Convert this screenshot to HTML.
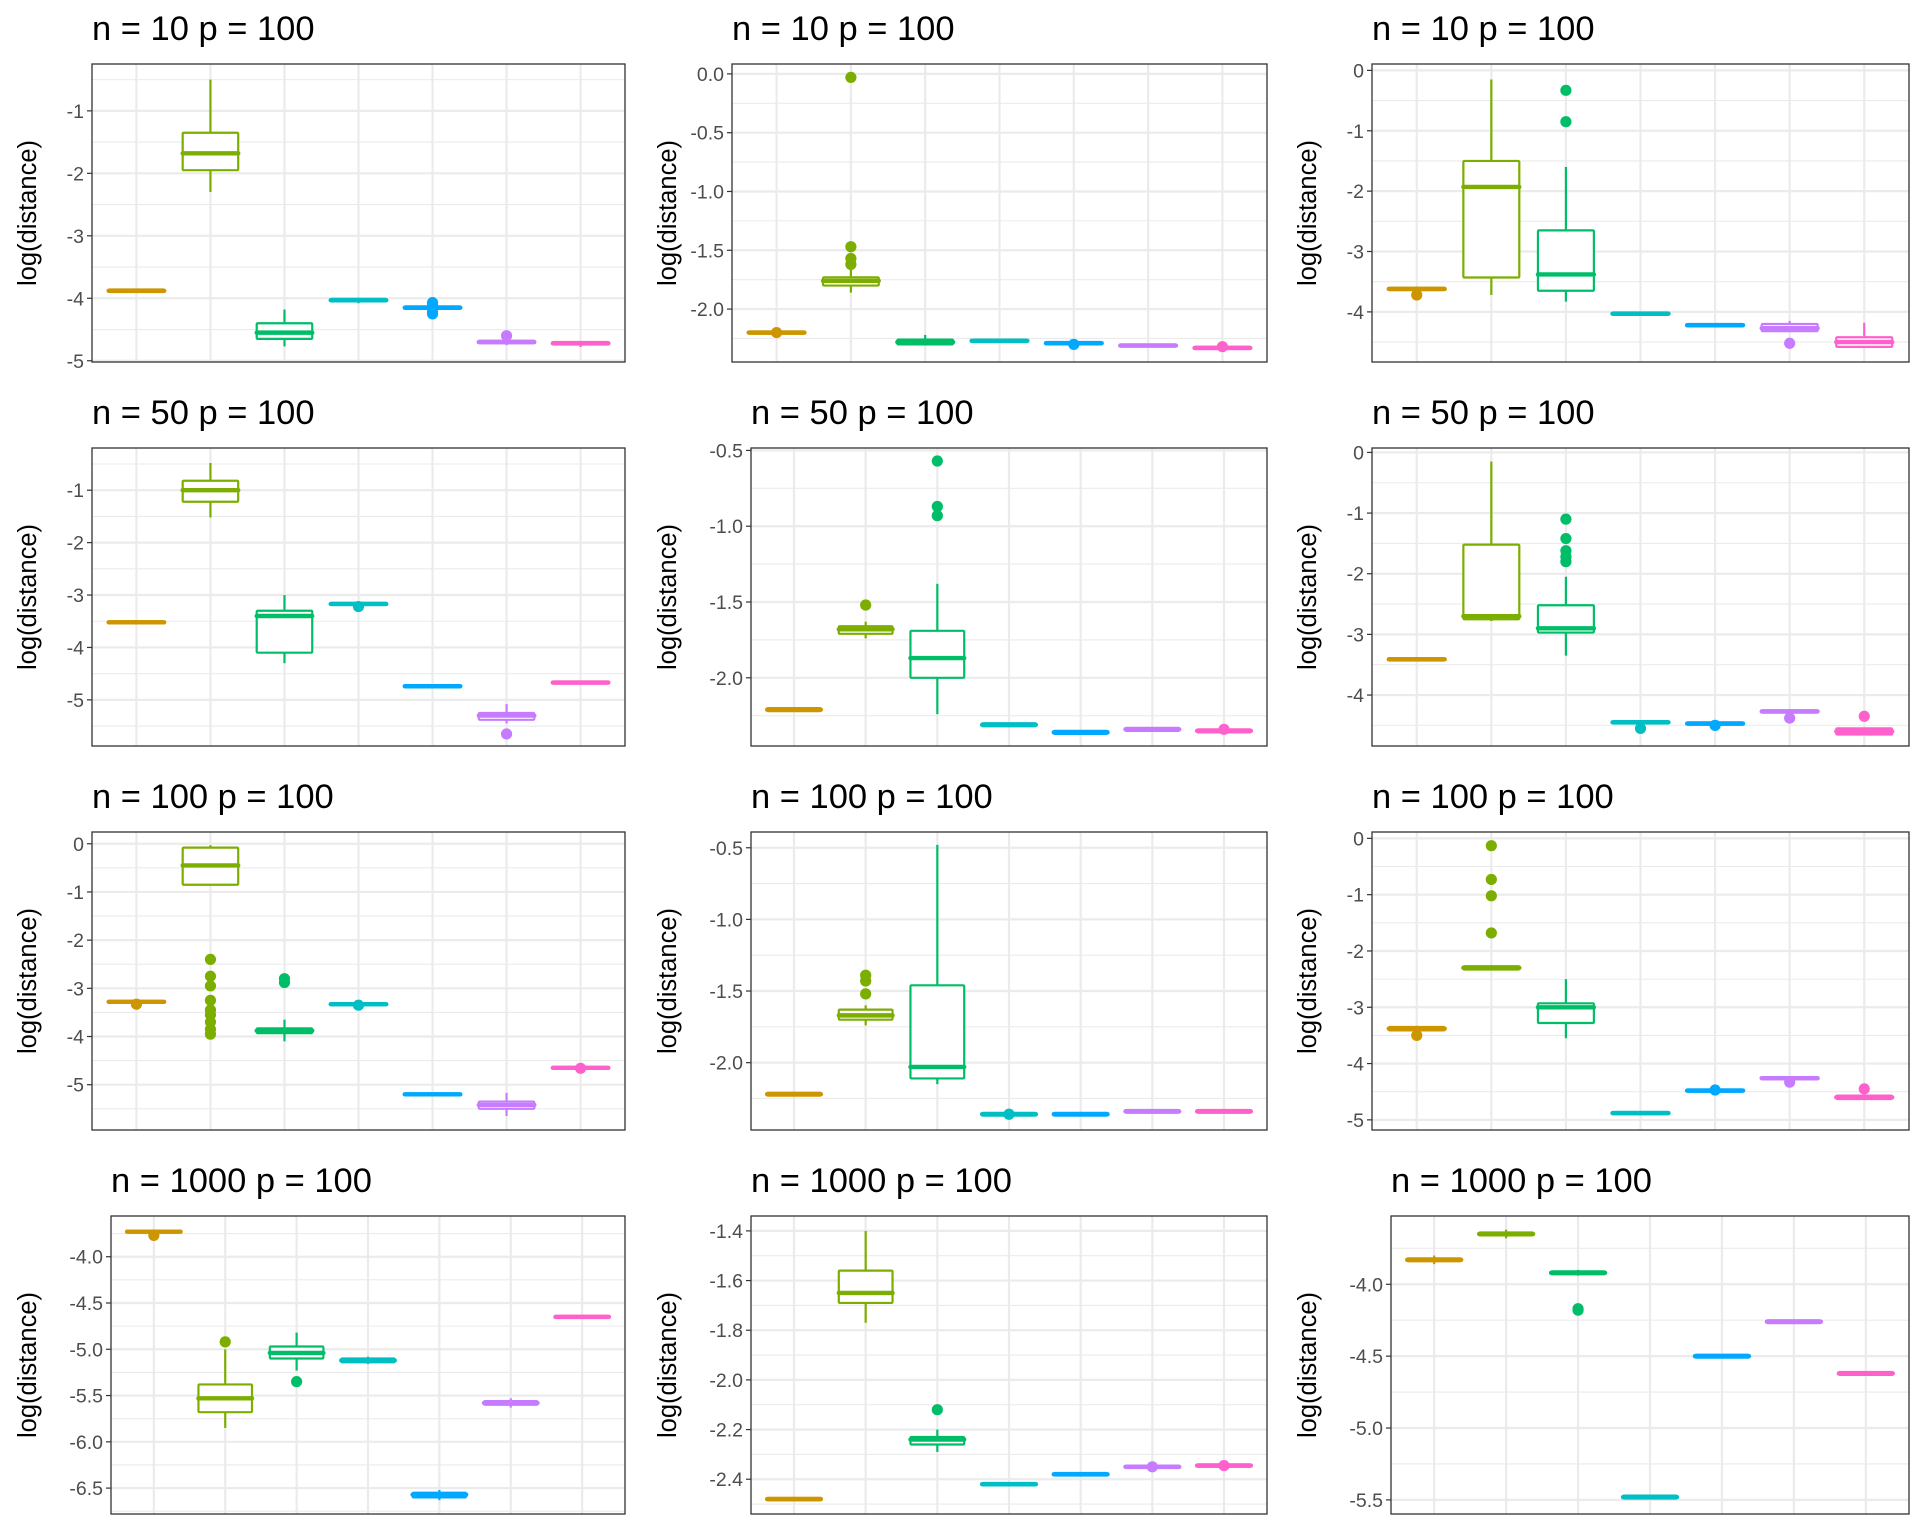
<!DOCTYPE html>
<html><head><meta charset="utf-8"><style>
html,body{margin:0;padding:0;background:#fff;}
svg{display:block;}
text{font-family:"Liberation Sans",Arial,sans-serif;}
</style></head><body>
<svg id="chart" xmlns="http://www.w3.org/2000/svg" width="1920" height="1536" viewBox="0 0 1920 1536"></svg>
<script>
const titles = ["n = 10 p = 100","n = 10 p = 100","n = 10 p = 100","n = 50 p = 100","n = 50 p = 100","n = 50 p = 100","n = 100 p = 100","n = 100 p = 100","n = 100 p = 100","n = 1000 p = 100","n = 1000 p = 100","n = 1000 p = 100"];
const categories = ["m1","m2","m3","m4","m5","m6","m7"];
const colors = ["#CD9600","#7CAE00","#00BE67","#00BFC4","#00A9FF","#C77CFF","#FF61CC"];
const yMax = [-0.25,0.084,0.106,-0.195,-0.484,0.073,0.244,-0.39,0.113,-3.56,-1.34,-3.525];
const yMin = [-5.02,-2.45,-4.83,-5.88,-2.45,-4.84,-5.94,-2.47,-5.18,-6.78,-2.54,-5.598];
const tickValues = [
 [-1,-2,-3,-4,-5],[0,-0.5,-1,-1.5,-2],[0,-1,-2,-3,-4],
 [-1,-2,-3,-4,-5],[-0.5,-1,-1.5,-2],[0,-1,-2,-3,-4],
 [0,-1,-2,-3,-4,-5],[-0.5,-1,-1.5,-2],[0,-1,-2,-3,-4,-5],
 [-4,-4.5,-5,-5.5,-6,-6.5],[-1.4,-1.6,-1.8,-2,-2.2,-2.4],[-4,-4.5,-5,-5.5]];
const tickLabels = [
 ["-1","-2","-3","-4","-5"],["0.0","-0.5","-1.0","-1.5","-2.0"],["0","-1","-2","-3","-4"],
 ["-1","-2","-3","-4","-5"],["-0.5","-1.0","-1.5","-2.0"],["0","-1","-2","-3","-4"],
 ["0","-1","-2","-3","-4","-5"],["-0.5","-1.0","-1.5","-2.0"],["0","-1","-2","-3","-4","-5"],
 ["-4.0","-4.5","-5.0","-5.5","-6.0","-6.5"],["-1.4","-1.6","-1.8","-2.0","-2.2","-2.4"],["-4.0","-4.5","-5.0","-5.5"]];
const q3s = [
 [-3.86,-1.35,-4.4,-4.01,-4.13,-4.68,-4.7],
 [-2.19,-1.73,-2.26,-2.26,-2.28,-2.30,-2.32],
 [-3.6,-1.5,-2.65,-4.01,-4.2,-4.2,-4.42],
 [-3.5,-0.82,-3.3,-3.15,-4.72,-5.25,-4.65],
 [-2.2,-1.66,-1.69,-2.3,-2.35,-2.33,-2.34],
 [-3.39,-1.52,-2.52,-4.43,-4.45,-4.25,-4.55],
 [-3.26,-0.08,-3.83,-3.31,-5.18,-5.35,-4.63],
 [-2.21,-1.63,-1.46,-2.35,-2.35,-2.33,-2.33],
 [-3.35,-2.27,-2.93,-4.86,-4.46,-4.24,-4.57],
 [-3.72,-5.38,-4.97,-5.1,-6.55,-5.56,-4.64],
 [-2.475,-1.56,-2.23,-2.415,-2.375,-2.345,-2.34],
 [-3.82,-3.64,-3.91,-5.47,-4.49,-4.25,-4.61]];
const medians = [
 [-3.88,-1.68,-4.55,-4.03,-4.15,-4.7,-4.72],
 [-2.2,-1.76,-2.28,-2.27,-2.29,-2.31,-2.33],
 [-3.62,-1.93,-3.38,-4.03,-4.22,-4.27,-4.5],
 [-3.52,-1.0,-3.4,-3.17,-4.74,-5.3,-4.67],
 [-2.21,-1.68,-1.87,-2.31,-2.36,-2.34,-2.35],
 [-3.41,-2.7,-2.9,-4.45,-4.47,-4.27,-4.6],
 [-3.28,-0.45,-3.88,-3.33,-5.2,-5.42,-4.65],
 [-2.22,-1.67,-2.03,-2.36,-2.36,-2.34,-2.34],
 [-3.38,-2.3,-3.0,-4.88,-4.48,-4.26,-4.6],
 [-3.73,-5.53,-5.04,-5.12,-6.57,-5.58,-4.65],
 [-2.48,-1.65,-2.24,-2.42,-2.38,-2.35,-2.345],
 [-3.83,-3.65,-3.92,-5.48,-4.5,-4.26,-4.62]];
const q1s = [
 [-3.9,-1.95,-4.65,-4.05,-4.17,-4.72,-4.74],
 [-2.21,-1.8,-2.3,-2.28,-2.3,-2.32,-2.34],
 [-3.64,-3.43,-3.65,-4.05,-4.24,-4.32,-4.58],
 [-3.54,-1.22,-4.1,-3.19,-4.76,-5.38,-4.69],
 [-2.22,-1.71,-2.0,-2.32,-2.37,-2.35,-2.36],
 [-3.43,-2.75,-2.97,-4.47,-4.49,-4.29,-4.65],
 [-3.3,-0.85,-3.93,-3.35,-5.22,-5.5,-4.67],
 [-2.23,-1.7,-2.11,-2.37,-2.37,-2.35,-2.35],
 [-3.41,-2.33,-3.28,-4.9,-4.5,-4.28,-4.63],
 [-3.74,-5.68,-5.1,-5.14,-6.6,-5.6,-4.66],
 [-2.485,-1.69,-2.26,-2.425,-2.385,-2.355,-2.35],
 [-3.84,-3.66,-3.93,-5.49,-4.51,-4.27,-4.63]];
const highs = [
 [-3.85,-0.5,-4.18,-3.99,-4.12,-4.66,-4.7],
 [-2.18,-1.62,-2.22,-2.25,-2.27,-2.3,-2.31],
 [-3.58,-0.15,-1.6,-4.0,-4.19,-4.15,-4.18],
 [-3.5,-0.48,-3.0,-3.14,-4.72,-5.08,-4.65],
 [-2.2,-1.63,-1.38,-2.3,-2.35,-2.33,-2.34],
 [-3.38,-0.15,-2.05,-4.42,-4.45,-4.24,-4.55],
 [-3.24,-0.03,-3.65,-3.3,-5.18,-5.17,-4.62],
 [-2.21,-1.6,-0.48,-2.35,-2.35,-2.33,-2.33],
 [-3.33,-2.25,-2.5,-4.85,-4.46,-4.23,-4.57],
 [-3.72,-5.0,-4.82,-5.08,-6.52,-5.53,-4.64],
 [-2.475,-1.4,-2.2,-2.415,-2.375,-2.345,-2.34],
 [-3.8,-3.62,-3.9,-5.47,-4.49,-4.25,-4.61]];
const lows = [
 [-3.9,-2.3,-4.77,-4.08,-4.17,-4.75,-4.78],
 [-2.21,-1.86,-2.31,-2.28,-2.31,-2.32,-2.35],
 [-3.64,-3.72,-3.83,-4.06,-4.24,-4.32,-4.6],
 [-3.54,-1.52,-4.3,-3.19,-4.76,-5.45,-4.69],
 [-2.22,-1.74,-2.24,-2.32,-2.37,-2.35,-2.36],
 [-3.43,-2.78,-3.35,-4.47,-4.49,-4.29,-4.65],
 [-3.3,-0.85,-4.1,-3.35,-5.22,-5.65,-4.67],
 [-2.23,-1.74,-2.15,-2.37,-2.37,-2.35,-2.35],
 [-3.41,-2.33,-3.55,-4.92,-4.5,-4.28,-4.63],
 [-3.74,-5.85,-5.23,-5.16,-6.63,-5.63,-4.66],
 [-2.485,-1.77,-2.29,-2.425,-2.385,-2.355,-2.35],
 [-3.86,-3.68,-3.94,-5.49,-4.51,-4.27,-4.63]];
const outliers = [
 [[],[],[],[],[-4.07,-4.1,-4.22,-4.25],[-4.6],[]],
 [[-2.2],[-0.03,-1.47,-1.57,-1.62],[],[],[-2.3],[],[-2.32]],
 [[-3.72],[],[-0.33,-0.85],[],[],[-4.52],[]],
 [[],[],[],[-3.22],[],[-5.65],[]],
 [[],[-1.52],[-0.57,-0.87,-0.93],[],[],[],[-2.34]],
 [[],[],[-1.1,-1.42,-1.62,-1.72,-1.8],[-4.55],[-4.5],[-4.38],[-4.35]],
 [[-3.33],[-2.4,-2.75,-2.95,-3.25,-3.45,-3.55,-3.7,-3.85,-3.95],[-2.8,-2.88],[-3.35],[],[],[-4.66]],
 [[],[-1.39,-1.43,-1.52],[],[-2.36],[],[],[]],
 [[-3.5],[-0.13,-0.73,-1.02,-1.68],[],[],[-4.47],[-4.33],[-4.45]],
 [[-3.77],[-4.92],[-5.35],[],[],[],[]],
 [[],[],[-2.12],[],[],[-2.35],[-2.345]],
 [[],[],[-4.17,-4.18],[],[],[],[]]];

const NS = "http://www.w3.org/2000/svg";
const svg = document.getElementById("chart");
function mk(tag, attrs, parent){
  const e = document.createElementNS(NS, tag);
  for (const k in attrs) e.setAttribute(k, attrs[k]);
  (parent||svg).appendChild(e);
  return e;
}
const rightEdge = [625,1267,1909];
for (let p = 0; p < 12; p++) {
  const row = Math.floor(p/3), col = p%3;
  const top = 64 + row*384, bottom = top + 298;
  const wideLabels = tickLabels[p][0].length >= 4;
  const left = col*640 + (wideLabels ? 111 : 92);
  const right = rightEdge[col];
  const w = right - left;
  const g = mk("g", {});
  
  
  const y = v => top + (yMax[p] - v) / (yMax[p] - yMin[p]) * (bottom - top);
  const x = i => left + (0.6 + i) * w / 7.2;
  const hw = 0.375 * w / 7.2;
  const bg = mk("rect", {x:left, y:top, width:w, height:bottom-top, fill:"#fff"}, g);
  
  
  const tv = tickValues[p];
  const step = tv[0] - tv[1];
  for (let v = tv[0] + step/2; v > yMin[p]; v -= step) {
    if (v < yMax[p]) {
      const l = mk("line", {x1:left, x2:right, y1:y(v), y2:y(v), stroke:"#ebebeb", "stroke-width":1.1}, g);
      
      
    }
  }
  tv.forEach((v, k) => {
    const l = mk("line", {x1:left, x2:right, y1:y(v), y2:y(v), stroke:"#ebebeb", "stroke-width":2.2}, g);
    
    
    const t = mk("line", {x1:left-5, x2:left, y1:y(v), y2:y(v), stroke:"#333", "stroke-width":1.2}, g);
    
    
    const lab = mk("text", {x:left-8, y:y(v)+7, "text-anchor":"end", "font-size":19.5, fill:"#4d4d4d"}, g);
    lab.textContent = tickLabels[p][k];
    
    
  });
  categories.forEach((c, i) => {
    const l = mk("line", {x1:x(i), x2:x(i), y1:top, y2:bottom, stroke:"#ebebeb", "stroke-width":2.2}, g);
    
    
  });
  categories.forEach((c, i) => {
    const col2 = colors[i];
    const bx = mk("g", {}, g);
    
    
    mk("line", {x1:x(i), x2:x(i), y1:y(q3s[p][i]), y2:y(highs[p][i]), stroke:col2, "stroke-width":2.2}, bx);
    mk("line", {x1:x(i), x2:x(i), y1:y(q1s[p][i]), y2:y(lows[p][i]), stroke:col2, "stroke-width":2.2}, bx);
    const h = Math.max(0.5, y(q1s[p][i]) - y(q3s[p][i]));
    mk("rect", {x:x(i)-hw, y:y(q3s[p][i]), width:2*hw, height:h, fill:"#fff", stroke:col2, "stroke-width":2.2, rx:1}, bx);
    mk("line", {x1:x(i)-hw, x2:x(i)+hw, y1:y(medians[p][i]), y2:y(medians[p][i]), stroke:col2, "stroke-width":4.4, "stroke-linecap":"round"}, bx);
    outliers[p][i].forEach(o => {
      const d = mk("circle", {cx:x(i), cy:y(o), r:5.6, fill:col2}, bx);
      
      
    });
  });
  const br = mk("rect", {x:left, y:top, width:w, height:bottom-top, fill:"none", stroke:"#333", "stroke-width":1.3}, g);
  
  
  const tt = mk("text", {x:left, y:top-24, "font-size":34.5, fill:"#000"}, g);
  tt.textContent = titles[p];
  
  
  const cy = (top+bottom)/2, cx = col*640 + 36;
  const yt = mk("text", {x:cx, y:cy, "font-size":25.5, fill:"#000", "text-anchor":"middle", transform:`rotate(-90 ${cx} ${cy})`}, g);
  yt.textContent = "log(distance)";
  
  
}
</script>
</body></html>
